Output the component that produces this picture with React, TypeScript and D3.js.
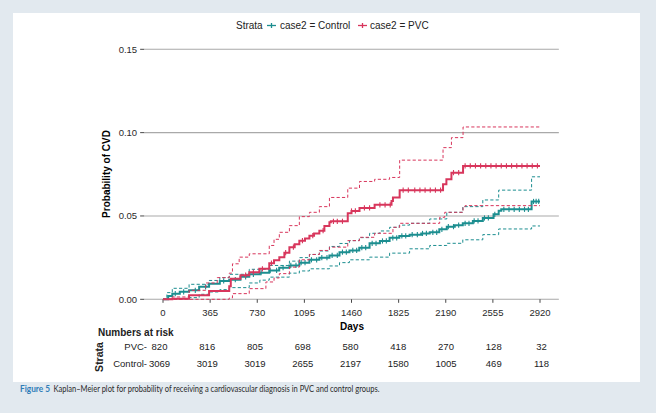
import React, { useRef, useEffect } from "react";
import * as d3 from "d3";

type Pt = [number, number];

const xTicks = [0, 365, 730, 1095, 1460, 1825, 2190, 2555, 2920];
const yTicks = [0, 0.05, 0.1, 0.15];
const riskRows = ["PVC", "Control"];
const riskPVC = [820, 816, 805, 698, 580, 418, 270, 128, 32];
const riskControl = [3069, 3019, 3019, 2655, 2197, 1580, 1005, 469, 118];

// Kaplan-Meier cumulative incidence, control group (step points: day, prob)
const ctrlEst: Pt[] = [
  [0, 0], [40, 0.002], [72, 0.0034], [130, 0.0045], [202, 0.0054], [280, 0.0075],
  [357, 0.0094], [440, 0.011], [513, 0.0118], [600, 0.0135], [668, 0.015], [750, 0.016],
  [823, 0.0173], [900, 0.019], [979, 0.0203], [1056, 0.022], [1134, 0.0237], [1211, 0.025],
  [1289, 0.0263], [1367, 0.0283], [1444, 0.0293], [1520, 0.031], [1600, 0.0336], [1680, 0.035],
  [1755, 0.0369], [1830, 0.038], [1910, 0.0388], [2000, 0.0395], [2066, 0.0402], [2140, 0.042],
  [2198, 0.0436], [2260, 0.0445], [2322, 0.0456], [2400, 0.047], [2477, 0.0488], [2560, 0.051],
  [2600, 0.0532], [2620, 0.054], [2855, 0.0587], [2920, 0.0587],
];
const ctrlUpper: Pt[] = [
  [0, 0], [30, 0.004], [72, 0.0066], [202, 0.009], [357, 0.0113], [440, 0.013], [513, 0.015],
  [668, 0.018], [823, 0.0203], [979, 0.0229], [1056, 0.025], [1134, 0.0269], [1211, 0.029],
  [1289, 0.0317], [1367, 0.0335], [1444, 0.0352], [1520, 0.037], [1600, 0.0396], [1680, 0.041],
  [1755, 0.0432], [1830, 0.0445], [1910, 0.0456], [2066, 0.0482], [2198, 0.0522], [2322, 0.0556],
  [2477, 0.0596], [2600, 0.0655], [2855, 0.0735], [2920, 0.0735],
];
const ctrlLower: Pt[] = [
  [0, 0], [150, 0.0005], [202, 0.001], [280, 0.003], [357, 0.0044], [440, 0.0058], [513, 0.007],
  [668, 0.0098], [750, 0.0115], [823, 0.0133], [979, 0.0157], [1056, 0.017], [1134, 0.0183],
  [1289, 0.02], [1367, 0.022], [1444, 0.0237], [1600, 0.0253], [1755, 0.0277], [1910, 0.0303],
  [2066, 0.0323], [2198, 0.0336], [2322, 0.0357], [2477, 0.0388], [2600, 0.0422], [2855, 0.044],
  [2920, 0.044],
];

// PVC group
const pvcEst: Pt[] = [
  [0, 0], [72, 0.0004], [202, 0.0024], [357, 0.005], [513, 0.0078], [525, 0.0124], [600, 0.0145],
  [668, 0.0163], [746, 0.0183], [823, 0.0217], [860, 0.0235], [901, 0.0253], [940, 0.028],
  [979, 0.0313], [1020, 0.033], [1056, 0.0352], [1100, 0.0365], [1134, 0.0382], [1170, 0.0395],
  [1211, 0.0412], [1250, 0.044], [1289, 0.0462], [1300, 0.0468], [1431, 0.0516], [1460, 0.053],
  [1522, 0.0548], [1639, 0.0567], [1770, 0.059], [1781, 0.0611], [1833, 0.0655], [2169, 0.0691],
  [2195, 0.0721], [2234, 0.076], [2324, 0.08], [2920, 0.08],
];
const pvcUpper: Pt[] = [
  [0, 0], [72, 0.0014], [202, 0.0054], [331, 0.0098], [420, 0.013], [513, 0.0157], [538, 0.0213],
  [590, 0.0253], [668, 0.0273], [823, 0.0323], [860, 0.036], [901, 0.0402], [979, 0.0442],
  [1056, 0.0496], [1134, 0.0522], [1211, 0.0556], [1289, 0.0611], [1431, 0.0667], [1522, 0.0707],
  [1639, 0.072], [1755, 0.0731], [1833, 0.0835], [2169, 0.091], [2234, 0.097], [2324, 0.1034],
  [2920, 0.1034],
];
const pvcLower: Pt[] = [
  [0, 0], [400, 0], [513, 0.0008], [538, 0.0034], [668, 0.0064], [797, 0.0104], [860, 0.0128],
  [901, 0.0154], [979, 0.0193], [1056, 0.0237], [1134, 0.0269], [1211, 0.0293], [1289, 0.0313],
  [1431, 0.0352], [1522, 0.0372], [1639, 0.0396], [1781, 0.0432], [1833, 0.0456], [2143, 0.0492],
  [2182, 0.0522], [2324, 0.0556], [2340, 0.0562], [2920, 0.0562],
];

// censoring times (tick marks)
const ctrlCensor = [
  95, 160, 250, 330, 470, 560, 640, 700, 760, 830, 880, 930, 990, 1030, 1070, 1100, 1150, 1190,
  1230, 1270, 1310, 1350, 1390, 1420, 1470, 1500, 1540, 1570, 1620, 1650, 1700, 1730, 1780, 1810,
  1850, 1880, 1930, 1970, 2010, 2040, 2090, 2120, 2160, 2210, 2250, 2290, 2340, 2370, 2410, 2440,
  2490, 2520, 2570, 2640, 2680, 2720, 2760, 2800, 2830, 2870, 2890, 2910,
];
const pvcCensor = [
  640, 700, 770, 840, 950, 1010, 1080, 1160, 1240, 1320, 1350, 1390, 1460, 1490, 1560, 1600, 1680,
  1720, 1760, 1860, 1900, 1950, 1990, 2030, 2070, 2110, 2150, 2250, 2290, 2340, 2380, 2420, 2460,
  2500, 2540, 2580, 2620, 2660, 2700, 2740, 2780, 2820, 2860, 2900,
];

const TEAL = "#1c8e90";
const RED = "#d8365c";
const FONT = "'Liberation Sans', Arial, sans-serif";

export default function App() {
  const ref = useRef<SVGSVGElement | null>(null);

  useEffect(() => {
    const svg = d3.select(ref.current);
    svg.selectAll("*").remove();
    const W = 656;
    const H = 413;

    svg.append("rect").attr("width", W).attr("height", H).attr("fill", "#e2e9ef");
    svg.append("rect").attr("x", 13).attr("y", 13).attr("width", 627).attr("height", 369).attr("fill", "#fff");

    const x = d3.scaleLinear().domain([0, 2920]).range([163, 540]);
    const y = d3.scaleLinear().domain([0, 0.15]).range([299.3, 49.3]);
    const pL = x(-146);
    const pR = x(3066);

    // grid + y axis
    const gy = svg.append("g");
    yTicks.forEach((t) => {
      gy.append("line").attr("x1", pL).attr("x2", pR).attr("y1", y(t)).attr("y2", y(t))
        .attr("stroke", "#a9a9a9").attr("stroke-width", 1.1);
      gy.append("line").attr("x1", pL - 4).attr("x2", pL).attr("y1", y(t)).attr("y2", y(t))
        .attr("stroke", "#333").attr("stroke-width", 0.9);
      gy.append("text").attr("x", pL - 7).attr("y", y(t)).attr("dy", "0.35em")
        .attr("text-anchor", "end").attr("font-family", FONT).attr("font-size", 9.5)
        .attr("fill", "#2a2a2a").text(d3.format(".2f")(t));
    });

    // x axis ticks
    const gx = svg.append("g");
    xTicks.forEach((t) => {
      gx.append("line").attr("x1", x(t)).attr("x2", x(t)).attr("y1", y(0)).attr("y2", y(0) + 3.5)
        .attr("stroke", "#333").attr("stroke-width", 0.9);
      gx.append("text").attr("x", x(t)).attr("y", 316).attr("text-anchor", "middle")
        .attr("font-family", FONT).attr("font-size", 9.5).attr("fill", "#2a2a2a").text(t);
    });

    svg.append("text").attr("x", 352).attr("y", 329.5).attr("text-anchor", "middle")
      .attr("font-family", FONT).attr("font-weight", "bold").attr("font-size", 10).text("Days");
    svg.append("text").attr("transform", `translate(110,${174}) rotate(-90)`).attr("text-anchor", "middle")
      .attr("font-family", FONT).attr("font-weight", "bold").attr("font-size", 10).text("Probability of CVD");

    const line = d3.line<Pt>().x((d) => x(d[0])).y((d) => y(d[1])).curve(d3.curveStepAfter);

    const drawSeries = (est: Pt[], lo: Pt[], hi: Pt[], cens: number[], color: string) => {
      [lo, hi].forEach((ci) => {
        svg.append("path").attr("d", line(ci)).attr("fill", "none").attr("stroke", color)
          .attr("stroke-width", 1).attr("stroke-dasharray", "3.2,2.2");
      });
      svg.append("path").attr("d", line(est)).attr("fill", "none").attr("stroke", color)
        .attr("stroke-width", 2);
      const bis = d3.bisector((d: Pt) => d[0]).right;
      cens.forEach((c) => {
        const v = est[Math.max(0, bis(est, c) - 1)][1];
        svg.append("line").attr("x1", x(c)).attr("x2", x(c)).attr("y1", y(v) - 2.6).attr("y2", y(v) + 2.6)
          .attr("stroke", color).attr("stroke-width", 1.1);
      });
    };
    drawSeries(ctrlEst, ctrlLower, ctrlUpper, ctrlCensor, TEAL);
    drawSeries(pvcEst, pvcLower, pvcUpper, pvcCensor, RED);

    // legend
    const lg = svg.append("g").attr("font-family", FONT).attr("font-size", 10).attr("fill", "#222");
    lg.append("text").attr("x", 236).attr("y", 29).text("Strata");
    const key = (cx: number, color: string) => {
      lg.append("line").attr("x1", cx - 4.5).attr("x2", cx + 4.5).attr("y1", 25.5).attr("y2", 25.5)
        .attr("stroke", color).attr("stroke-width", 1.3);
      lg.append("line").attr("x1", cx).attr("x2", cx).attr("y1", 23).attr("y2", 28)
        .attr("stroke", color).attr("stroke-width", 1.3);
    };
    key(271.5, TEAL);
    lg.append("text").attr("x", 280).attr("y", 29).text("case2 = Control");
    key(362.5, RED);
    lg.append("text").attr("x", 370).attr("y", 29).text("case2 = PVC");

    // risk table
    const xr = d3.scaleLinear().domain([0, 2920]).range([159.5, 541.5]);
    const rt = svg.append("g").attr("font-family", FONT).attr("fill", "#222");
    rt.append("text").attr("x", 98).attr("y", 336).attr("font-weight", "bold").attr("font-size", 10)
      .text("Numbers at risk");
    rt.append("text").attr("transform", "translate(103,357) rotate(-90)").attr("text-anchor", "middle")
      .attr("font-weight", "bold").attr("font-size", 10.5).text("Strata");
    const rowY = [349.5, 367];
    [riskPVC, riskControl].forEach((row, i) => {
      rt.append("text").attr("x", 147).attr("y", rowY[i]).attr("text-anchor", "end")
        .attr("font-size", 9.5).text(riskRows[i] + "-");
      row.forEach((n, j) => {
        rt.append("text").attr("x", xr(xTicks[j])).attr("y", rowY[i]).attr("text-anchor", "middle")
          .attr("font-size", 9.5).text(n);
      });
    });

    // caption
    const cap = svg.append("g").attr("font-family", "Lato, 'Open Sans', sans-serif").attr("font-size", 8.5);
    cap.append("text").attr("x", 20).attr("y", 392).attr("fill", "#2f7db8").attr("font-weight", "bold")
      .attr("textLength", 30).attr("lengthAdjust", "spacingAndGlyphs").text("Figure 5");
    cap.append("text").attr("x", 53.5).attr("y", 392).attr("fill", "#2a2a2a")
      .attr("textLength", 326).attr("lengthAdjust", "spacingAndGlyphs")
      .text("Kaplan–Meier plot for probability of receiving a cardiovascular diagnosis in PVC and control groups.");
  }, []);

  return (
    <div style={{ position: "absolute", left: 0, top: 0 }}>
      <svg ref={ref} width={656} height={413} style={{ display: "block" }} />
    </div>
  );
}
